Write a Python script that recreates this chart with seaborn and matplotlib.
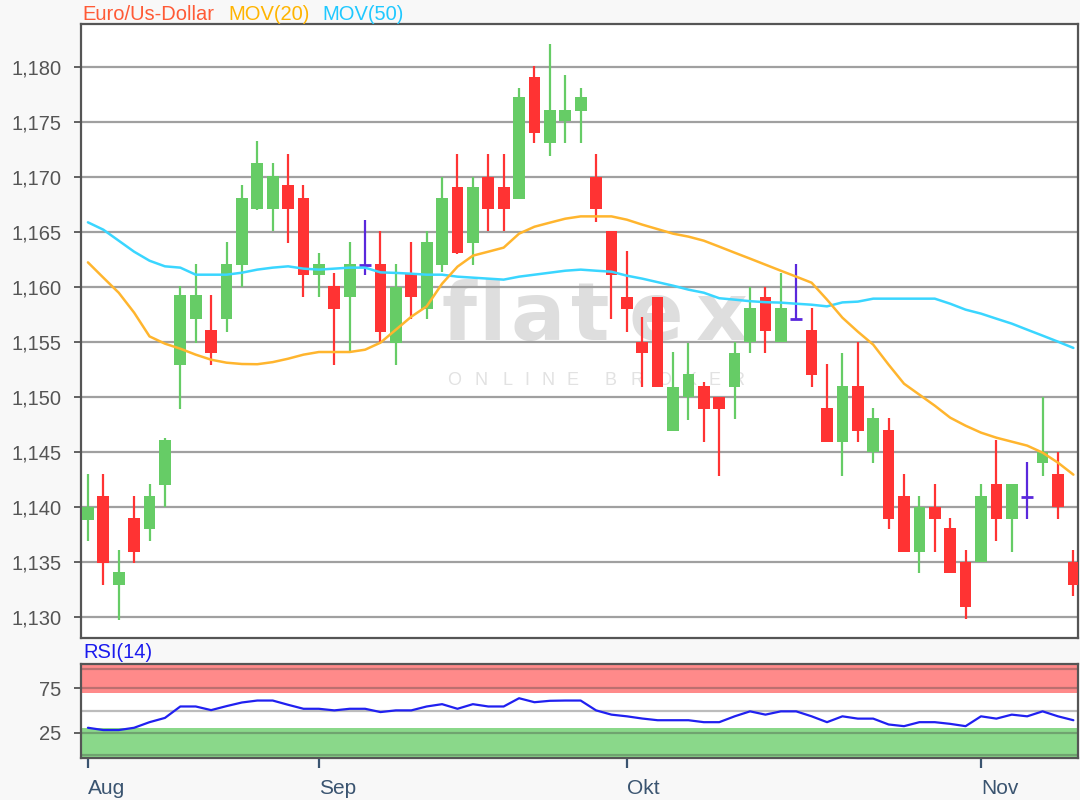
import numpy as np
import pandas as pd
import matplotlib
matplotlib.use("Agg")
import matplotlib.pyplot as plt
import seaborn as sns

# daily EUR/USD candles, mid Aug .. early Nov
opens = [1.1388, 1.1410, 1.1329, 1.1390, 1.1380, 1.1420, 1.1529, 1.1571, 1.1561, 1.1571,
         1.1620, 1.1671, 1.1671, 1.1692, 1.1681, 1.1611, 1.1601, 1.1591, 1.1620, 1.1621,
         1.1549, 1.1612, 1.1580, 1.1620, 1.1691, 1.1640, 1.1700, 1.1691, 1.1680, 1.1791,
         1.1731, 1.1751, 1.1760, 1.1700, 1.1651, 1.1591, 1.1550, 1.1591, 1.1469, 1.1500,
         1.1510, 1.1500, 1.1509, 1.1550, 1.1591, 1.1550, 1.1571, 1.1561, 1.1490, 1.1459,
         1.1510, 1.1450, 1.1470, 1.1410, 1.1359, 1.1400, 1.1381, 1.1350, 1.1350, 1.1421,
         1.1389, 1.1409, 1.1440, 1.1430, 1.1350]
highs = [1.1430, 1.1430, 1.1361, 1.1410, 1.1421, 1.1462, 1.1601, 1.1621, 1.1592, 1.1641,
         1.1692, 1.1732, 1.1712, 1.1721, 1.1692, 1.1631, 1.1612, 1.1641, 1.1661, 1.1651,
         1.1621, 1.1641, 1.1651, 1.1700, 1.1721, 1.1700, 1.1721, 1.1721, 1.1781, 1.1801,
         1.1821, 1.1792, 1.1781, 1.1721, 1.1651, 1.1632, 1.1572, 1.1591, 1.1541, 1.1549,
         1.1513, 1.1500, 1.1550, 1.1600, 1.1600, 1.1612, 1.1621, 1.1581, 1.1530, 1.1540,
         1.1550, 1.1490, 1.1481, 1.1430, 1.1410, 1.1421, 1.1390, 1.1361, 1.1421, 1.1461,
         1.1421, 1.1441, 1.1500, 1.1450, 1.1361]
lows = [1.1369, 1.1329, 1.1297, 1.1349, 1.1369, 1.1400, 1.1489, 1.1549, 1.1529, 1.1559,
        1.1600, 1.1670, 1.1651, 1.1640, 1.1591, 1.1591, 1.1529, 1.1541, 1.1611, 1.1549,
        1.1529, 1.1571, 1.1571, 1.1613, 1.1630, 1.1620, 1.1651, 1.1651, 1.1680, 1.1731,
        1.1719, 1.1731, 1.1731, 1.1659, 1.1571, 1.1559, 1.1509, 1.1509, 1.1469, 1.1479,
        1.1459, 1.1428, 1.1480, 1.1540, 1.1540, 1.1550, 1.1571, 1.1509, 1.1459, 1.1428,
        1.1459, 1.1440, 1.1380, 1.1359, 1.1340, 1.1359, 1.1340, 1.1298, 1.1350, 1.1369,
        1.1359, 1.1389, 1.1428, 1.1389, 1.1319]
closes = [1.1400, 1.1349, 1.1341, 1.1359, 1.1410, 1.1461, 1.1592, 1.1592, 1.1540, 1.1621,
          1.1681, 1.1712, 1.1701, 1.1671, 1.1611, 1.1621, 1.1580, 1.1621, 1.1620, 1.1559,
          1.1600, 1.1591, 1.1641, 1.1681, 1.1631, 1.1691, 1.1671, 1.1671, 1.1772, 1.1740,
          1.1761, 1.1761, 1.1772, 1.1671, 1.1611, 1.1580, 1.1540, 1.1509, 1.1509, 1.1521,
          1.1489, 1.1489, 1.1540, 1.1581, 1.1560, 1.1581, 1.1571, 1.1520, 1.1459, 1.1510,
          1.1469, 1.1481, 1.1389, 1.1359, 1.1400, 1.1389, 1.1340, 1.1309, 1.1410, 1.1389,
          1.1421, 1.1409, 1.1450, 1.1400, 1.1329]

ma20 = [1.16221, 1.16082, 1.15945, 1.15764, 1.15548, 1.15482, 1.15436, 1.15382, 1.15336, 1.15309,
        1.15297, 1.15295, 1.15314, 1.15345, 1.15382, 1.15406, 1.15406, 1.15406, 1.15427, 1.15491,
        1.15609, 1.15727, 1.15821, 1.16027, 1.16182, 1.16282, 1.16318, 1.16355, 1.16482, 1.16545,
        1.16582, 1.16618, 1.16639, 1.16639, 1.16639, 1.16609, 1.16564, 1.16523, 1.16482, 1.16455,
        1.16418, 1.16364, 1.16309, 1.16255, 1.16200, 1.16145, 1.16091, 1.16036, 1.15882, 1.15718,
        1.15591, 1.15473, 1.15291, 1.15118, 1.15018, 1.14918, 1.14809, 1.14736, 1.14673, 1.14627,
        1.14591, 1.14555, 1.14491, 1.14400, 1.14291]
ma50 = [1.16585, 1.16518, 1.16418, 1.16318, 1.16236, 1.16185, 1.16173, 1.16109, 1.16109, 1.16109,
        1.16127, 1.16155, 1.16173, 1.16185, 1.16164, 1.16155, 1.16164, 1.16173, 1.16173, 1.16130,
        1.16125, 1.16118, 1.16109, 1.16109, 1.16091, 1.16082, 1.16073, 1.16064, 1.16091, 1.16109,
        1.16127, 1.16145, 1.16155, 1.16145, 1.16136, 1.16100, 1.16073, 1.16041, 1.16009, 1.15973,
        1.15945, 1.15895, 1.15882, 1.15868, 1.15859, 1.15855, 1.15845, 1.15836, 1.15821, 1.15857,
        1.15864, 1.15891, 1.15891, 1.15891, 1.15891, 1.15891, 1.15845, 1.15791, 1.15755, 1.15709,
        1.15664, 1.15609, 1.15555, 1.15500, 1.15443]
rsi = [30.6, 28.0, 28.0, 30.6, 36.9, 41.7, 54.6, 54.6, 50.5, 55.0,
       59.1, 61.3, 61.3, 56.5, 52.0, 52.0, 50.2, 52.0, 52.0, 48.3,
       50.2, 50.2, 54.6, 57.2, 52.0, 57.2, 54.6, 54.6, 63.9, 59.4,
       61.0, 61.3, 61.3, 50.2, 45.4, 43.5, 41.0, 39.1, 39.1, 39.1,
       36.9, 36.9, 43.5, 49.1, 45.4, 49.1, 49.1, 43.5, 36.9, 43.5,
       40.9, 40.9, 34.3, 32.4, 36.9, 36.9, 35.0, 32.4, 43.5, 40.9,
       45.4, 43.5, 49.1, 43.5, 39.1]

price_ticks = [1.130, 1.135, 1.140, 1.145, 1.150, 1.155, 1.160, 1.165, 1.170, 1.175, 1.180]
price_labels = ["1,130", "1,135", "1,140", "1,145", "1,150", "1,155",
                "1,160", "1,165", "1,170", "1,175", "1,180"]
month_pos = [0, 15, 35, 58]
month_names = ["Aug", "Sep", "Okt", "Nov"]
rsi_ticks = [25, 75]

df = pd.DataFrame({"open": opens, "high": highs, "low": lows, "close": closes,
                   "ma20": ma20, "ma50": ma50, "rsi": rsi})
df["idx"] = np.arange(len(df))

GREEN = "#66cc66"
RED = "#ff3333"
DOJI = "#5a28dc"

sns.set_theme(style="white")
plt.rcParams["font.family"] = ["Liberation Sans", "DejaVu Sans"]

W, H = 1080, 800
fig = plt.figure(figsize=(10.8, 8), dpi=100, facecolor="#f8f8f8")
ax = fig.add_axes([81 / W, 1 - 638 / H, 997 / W, 614 / H])
rax = fig.add_axes([81 / W, 1 - 758 / H, 997 / W, 94 / H])

# watermark
for ch, cx in zip("flatex", [459, 492, 538, 590, 656, 722]):
    ax.text(cx / W, 1 - 340 / H, ch, transform=fig.transFigure, ha="center",
            va="baseline", fontsize=58, fontweight="bold", color="#dedede",
            family="DejaVu Sans", zorder=0.3)
for ch, cx in zip("ONLINEBROKER", [454, 481, 507, 527, 548, 572, 610, 637, 664, 690, 714, 738]):
    ax.text(cx / W, 1 - 385 / H, ch, transform=fig.transFigure, ha="center",
            va="baseline", fontsize=13, color="#e2e2e2", zorder=0.3)

# candles
up = df["close"] > df["open"]
dn = df["close"] < df["open"]
dj = df["close"] == df["open"]
colors = np.where(up, GREEN, np.where(dn, RED, DOJI))
ax.vlines(df["idx"], df["low"], df["high"], colors=colors, lw=1.6, zorder=3)
body = df[~dj]
ax.bar(body["idx"], (body["close"] - body["open"]).abs(),
       bottom=body[["open", "close"]].min(axis=1), width=0.76,
       color=colors[~dj.values], lw=0, zorder=3)
ax.hlines(df.loc[dj, "close"], df.loc[dj, "idx"] - 0.38, df.loc[dj, "idx"] + 0.38,
          colors=DOJI, lw=2, zorder=3)

sns.lineplot(data=df, x="idx", y="ma50", ax=ax, color="#3ad6ff", lw=1.8, zorder=4)
sns.lineplot(data=df, x="idx", y="ma20", ax=ax, color="#ffb52e", lw=1.8, zorder=4)

ax.set_facecolor("white")
ax.set_xlim(-0.45, 64.3)
ax.set_ylim(1.12806, 1.18388)
ax.set_yticks(price_ticks)
ax.set_yticklabels(price_labels)
ax.set_xticks([])
ax.set_xlabel("")
ax.set_ylabel("")
ax.set_axisbelow(True)
ax.yaxis.grid(True, color="#a0a0a0", lw=1.6)
ax.tick_params(axis="y", left=True, length=5, width=1.3, color="#555555",
               labelcolor="#555555", labelsize=14.5, pad=9)
for s in ax.spines.values():
    s.set_color("#555555")
    s.set_linewidth(1.6)

# RSI panel
rax.set_facecolor("white")
rax.axhspan(70, 110, color="#ff8a8a", lw=0, zorder=0.2)
rax.axhspan(-10, 30, color="#8ad88a", lw=0, zorder=0.2)
for lvl in [0, 25, 50, 75, 97]:
    rax.axhline(lvl, color="#404040", alpha=0.35, lw=1.6, zorder=0.5)
sns.lineplot(data=df, x="idx", y="rsi", ax=rax, color="#2020f0", lw=1.6, zorder=3)
rax.set_xlim(-0.45, 64.3)
rax.set_ylim(-3.5, 102.5)
rax.set_yticks(rsi_ticks)
rax.set_yticklabels([str(t) for t in rsi_ticks])
rax.set_xticks(month_pos)
rax.set_xticklabels(month_names)
for lab in rax.get_xticklabels():
    lab.set_horizontalalignment("left")
rax.set_xlabel("")
rax.set_ylabel("")
rax.tick_params(axis="y", left=True, length=5, width=1.3, color="#555555",
                labelcolor="#555555", labelsize=14.5, pad=9)
rax.tick_params(axis="x", bottom=True, length=7, width=1.6, color="#3a5470",
                labelcolor="#3a5470", labelsize=15, pad=8)
for s in rax.spines.values():
    s.set_color("#555555")
    s.set_linewidth(1.6)

# header texts
fig.text(82 / W, 1 - 20.5 / H, "Euro/Us-Dollar", color="#ff5a36", fontsize=14.5, va="baseline")
fig.text(228 / W, 1 - 20.5 / H, "MOV(20)", color="#ffb400", fontsize=14.5, va="baseline")
fig.text(322 / W, 1 - 20.5 / H, "MOV(50)", color="#1fc8ff", fontsize=14.5, va="baseline")
fig.text(83 / W, 1 - 658 / H, "RSI(14)", color="#1a1aee", fontsize=14.5, va="baseline")

fig.savefig("out.png", dpi=100, facecolor=fig.get_facecolor())
